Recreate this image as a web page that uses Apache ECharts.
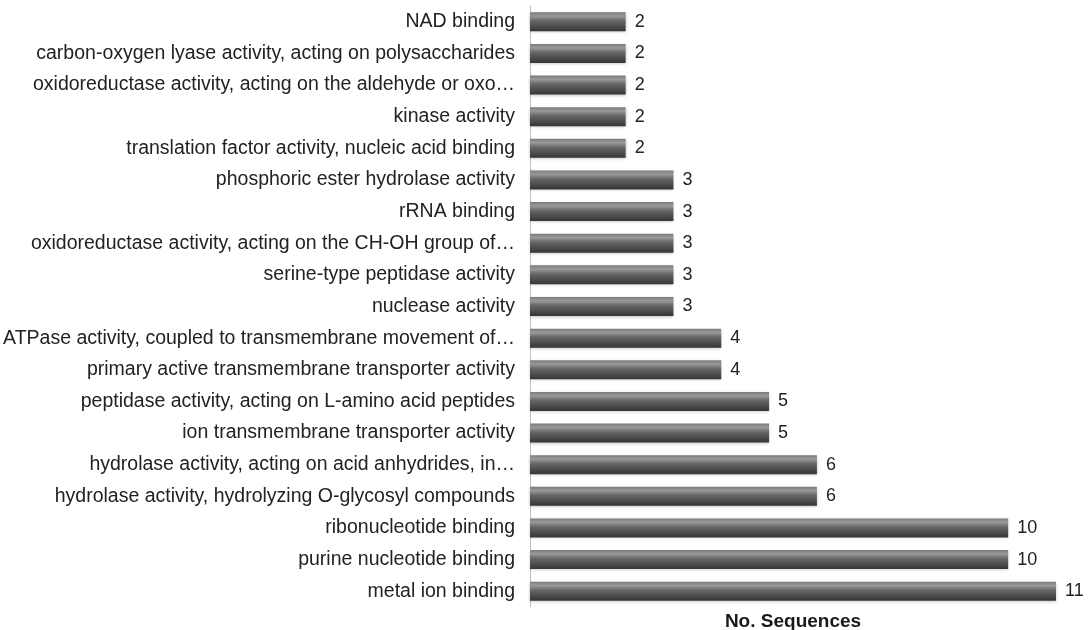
<!DOCTYPE html>
<html><head><meta charset="utf-8">
<script src="https://cdn.jsdelivr.net/npm/echarts@6/dist/echarts.min.js"></script>
<style>html,body{margin:0;padding:0;background:#fff}#c{width:1089px;height:630px}</style>
</head><body><div id="c"></div>
<script>
const categories = [
  "metal ion binding",
  "purine nucleotide binding",
  "ribonucleotide binding",
  "hydrolase activity, hydrolyzing O-glycosyl compounds",
  "hydrolase activity, acting on acid anhydrides, in…",
  "ion transmembrane transporter activity",
  "peptidase activity, acting on L-amino acid peptides",
  "primary active transmembrane transporter activity",
  "ATPase activity, coupled to transmembrane movement of…",
  "nuclease activity",
  "serine-type peptidase activity",
  "oxidoreductase activity, acting on the CH-OH group of…",
  "rRNA binding",
  "phosphoric ester hydrolase activity",
  "translation factor activity, nucleic acid binding",
  "kinase activity",
  "oxidoreductase activity, acting on the aldehyde or oxo…",
  "carbon-oxygen lyase activity, acting on polysaccharides",
  "NAD binding"
];
const counts = [11, 10, 10, 6, 6, 5, 5, 4, 4, 3, 3, 3, 3, 3, 2, 2, 2, 2, 2];
const axisTitle = "No. Sequences";

const chart = echarts.init(document.getElementById('c'));
chart.setOption({
  animation: false,
  grid: {left: 530, right: 33, top: 6, bottom: 23, containLabel: false, outerBoundsMode: 'none'},
  xAxis: {
    type: 'value', min: 0, max: 11,
    axisLine: {show: false}, axisTick: {show: false}, axisLabel: {show: false}, splitLine: {show: false},
    name: axisTitle, nameLocation: 'middle', nameGap: 5,
    nameTextStyle: {fontFamily: 'Liberation Sans', fontSize: 19, fontWeight: 'bold', color: '#1a1a1a'}
  },
  yAxis: {
    type: 'category', data: categories,
    axisLine: {show: true, lineStyle: {color: '#c0c0c0', width: 1}},
    axisTick: {show: false},
    axisLabel: {fontFamily: 'Liberation Sans', fontSize: 19.5, color: '#222', margin: 15}
  },
  series: [{
    type: 'bar', data: counts, barWidth: 19,
    itemStyle: {
      color: new echarts.graphic.LinearGradient(0, 0, 0, 1, [
        {offset: 0, color: '#7a7a7a'},
        {offset: 0.2, color: '#9a9a9a'},
        {offset: 0.45, color: '#666'},
        {offset: 0.8, color: '#474747'},
        {offset: 1, color: '#353535'}
      ]),
      shadowColor: 'rgba(0,0,0,0.25)', shadowBlur: 3, shadowOffsetY: 1
    },
    label: {show: true, position: 'right', distance: 9, fontFamily: 'Liberation Sans', fontSize: 18, color: '#222'}
  }]
});
</script></body></html>
